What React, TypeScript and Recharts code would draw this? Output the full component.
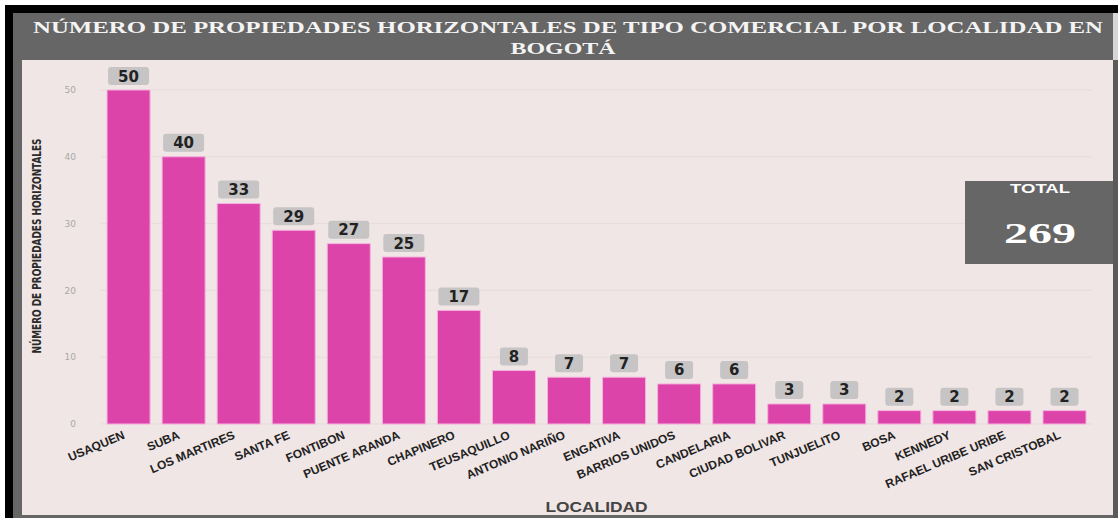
import React from "react";
import { BarChart, Bar, XAxis, YAxis, CartesianGrid, LabelList } from "recharts";

const localidades = [
  "USAQUEN",
  "SUBA",
  "LOS MARTIRES",
  "SANTA FE",
  "FONTIBON",
  "PUENTE ARANDA",
  "CHAPINERO",
  "TEUSAQUILLO",
  "ANTONIO NARIÑO",
  "ENGATIVA",
  "BARRIOS UNIDOS",
  "CANDELARIA",
  "CIUDAD BOLIVAR",
  "TUNJUELITO",
  "BOSA",
  "KENNEDY",
  "RAFAEL URIBE URIBE",
  "SAN CRISTOBAL",
];
const propiedades = [50, 40, 33, 29, 27, 25, 17, 8, 7, 7, 6, 6, 3, 3, 2, 2, 2, 2];
const yTicks = [0, 10, 20, 30, 40, 50];

const data = localidades.map((localidad, i) => ({ localidad, propiedades: propiedades[i] }));
const total = propiedades.reduce((a, b) => a + b, 0);

function XTick(props: any) {
  const { x, y, payload } = props;
  return (
    <g transform={`translate(${x - 3},${y + 6})`}>
      <text
        textAnchor="end"
        transform="rotate(-23)"
        fontSize={12}
        fontWeight="bold"
        fontFamily="'Liberation Sans', Arial, sans-serif"
        fill="#222"
      >
        {payload.value}
      </text>
    </g>
  );
}

function ValueBox(props: any) {
  const { x, y, width, value } = props;
  const cx = x + width / 2;
  const w = String(value).length > 1 ? 41 : 28;
  return (
    <g>
      <rect x={cx - w / 2} y={y - 23} width={w} height={18} rx={3} fill="#c6c4c4" />
      <text
        x={cx}
        y={y - 8.5}
        textAnchor="middle"
        fontSize={15}
        fontWeight="bold"
        fontFamily="'DejaVu Sans', sans-serif"
        fill="#222"
      >
        {value}
      </text>
    </g>
  );
}

function YTitle(props: any) {
  const vb = props.viewBox || { x: 0, y: 30, width: 79, height: 334 };
  const cx = vb.x + 14;
  const cy = vb.y + vb.height / 2 - 11;
  return (
    <text
      x={cx}
      y={cy}
      transform={`rotate(-90 ${cx} ${cy})`}
      textAnchor="middle"
      dominantBaseline="central"
      fontSize={13}
      fontWeight="bold"
      fontFamily="'DejaVu Sans Condensed', 'DejaVu Sans', sans-serif"
      textLength={215}
      lengthAdjust="spacingAndGlyphs"
      fill="#2a2a2a"
    >
      NÚMERO DE PROPIEDADES HORIZONTALES
    </text>
  );
}

function XTitle(props: any) {
  const vb = props.viewBox || { x: 79, y: 364, width: 991, height: 91 };
  return (
    <text
      x={vb.x + vb.width / 2}
      y={vb.y + 88}
      textAnchor="middle"
      fontSize={14}
      fontWeight="bold"
      fontFamily="'Liberation Sans', Arial, sans-serif"
      textLength={102}
      lengthAdjust="spacingAndGlyphs"
      fill="#444"
    >
      LOCALIDAD
    </text>
  );
}

export default function App() {
  return (
    <div
      style={{
        position: "absolute",
        left: 0,
        top: 0,
        width: 1118,
        height: 518,
        background: "#fff",
        overflow: "hidden",
      }}
    >
      <div style={{ position: "absolute", left: 5, top: 5, width: 1113, height: 513, background: "#000" }} />
      <div style={{ position: "absolute", left: 13, top: 13, width: 1100, height: 505, background: "#666" }} />
      <div style={{ position: "absolute", left: 1113, top: 13, width: 5, height: 47, background: "#d6d6d6" }} />
      <div style={{ position: "absolute", left: 1113, top: 60, width: 5, height: 458, background: "#5a5a5a" }} />
      <svg style={{ position: "absolute", left: 13, top: 13 }} width={1100} height={47}>
        <g
          fontFamily="'Liberation Serif', 'Times New Roman', serif"
          fontWeight="bold"
          fontSize={16}
          fill="#f4f4f4"
          textAnchor="middle"
        >
          <text x={555} y={20} textLength={1070} lengthAdjust="spacingAndGlyphs">
            NÚMERO DE PROPIEDADES HORIZONTALES DE TIPO COMERCIAL POR LOCALIDAD EN
          </text>
          <text x={550} y={41} textLength={105} lengthAdjust="spacingAndGlyphs">
            BOGOTÁ
          </text>
        </g>
      </svg>
      <div style={{ position: "absolute", left: 22, top: 60, width: 1091, height: 455, background: "#f0e6e5" }}>
        <BarChart
          width={1088}
          height={455}
          data={data}
          margin={{ top: 30, right: 18, left: 0, bottom: 0 }}
          barCategoryGap="11%"
        >
          <CartesianGrid vertical={false} stroke="#e6dbda" strokeWidth={1} />
          <XAxis
            dataKey="localidad"
            interval={0}
            height={91}
            tickLine={false}
            axisLine={false}
            tick={<XTick />}
            label={<XTitle />}
          />
          <YAxis
            width={79}
            domain={[0, 50]}
            ticks={yTicks}
            tickLine={false}
            axisLine={false}
            tickMargin={19}
            tick={{ fontSize: 9, fill: "#a8a8a8", fontFamily: "'DejaVu Sans', sans-serif" }}
            label={<YTitle />}
          />
          <Bar
            dataKey="propiedades"
            fill="#dd44aa"
            stroke="#f6b0de"
            strokeWidth={1}
            isAnimationActive={false}
          >
            <LabelList dataKey="propiedades" content={<ValueBox />} />
          </Bar>
        </BarChart>
      </div>
      <div
        style={{
          position: "absolute",
          left: 965,
          top: 181,
          width: 148,
          height: 83,
          background: "#666",
        }}
      >
        <svg width={148} height={83}>
          <text
            x={75}
            y={12}
            textAnchor="middle"
            fontSize={13}
            fontWeight="bold"
            fontFamily="'Liberation Sans', Arial, sans-serif"
            textLength={60}
            lengthAdjust="spacingAndGlyphs"
            fill="#fff"
          >
            TOTAL
          </text>
          <text
            x={75}
            y={62}
            textAnchor="middle"
            fontSize={30}
            fontWeight="bold"
            fontFamily="'Liberation Serif', 'Times New Roman', serif"
            textLength={72}
            lengthAdjust="spacingAndGlyphs"
            fill="#fff"
          >
            {total}
          </text>
        </svg>
      </div>
    </div>
  );
}
